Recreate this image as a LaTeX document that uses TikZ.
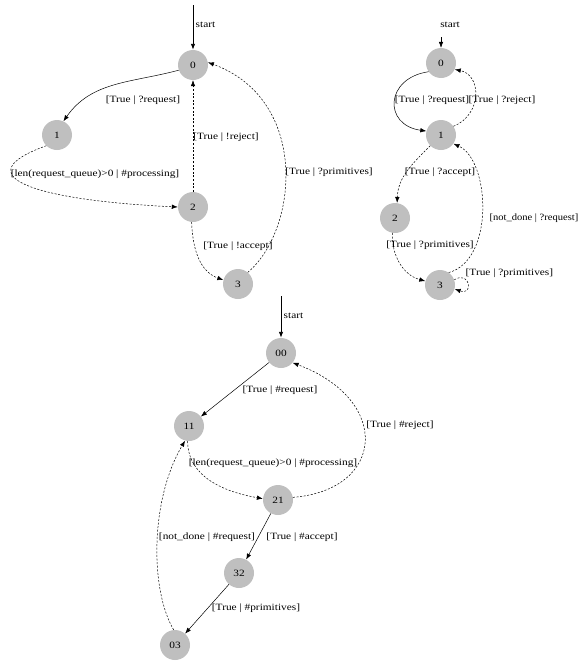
\documentclass[tikz,border=0pt]{standalone}
\usepackage{fontspec}
\usepackage{graphicx}
\setmainfont{Liberation Serif}[FakeStretch=1.18]
\usetikzlibrary{arrows.meta}
\newcommand{\lblfont}{\fontsize{9.6}{11}\selectfont}
\tikzset{
  st/.style={circle, fill=gray!50, minimum size=30pt, inner sep=0pt, font=\lblfont},
  e/.style={-{Latex[length=6pt,width=4.5pt]}, line width=0.5pt},
  dsh/.style={e, dash pattern=on 2pt off 1.6pt},
  stedge/.style={-{Latex[length=6pt,width=4.5pt]}, line width=0.9pt},
  lab/.style={font=\lblfont, inner sep=0.5pt},
}
\begin{document}
\begin{tikzpicture}[x=1pt,y=-1pt]
\useasboundingbox (0,0) rectangle (580,664);
% ---------- left graph ----------
\node[st] (a0) at (193,65) {0};
\node[st] (a1) at (57,135) {1};
\node[st] (a2) at (193,207) {2};
\node[st] (a3) at (238,284) {3};
\coordinate (as) at (193,5);
\draw[stedge] (as) -- (a0);
\node[lab, anchor=west] (asl) at (195,25) {start};
\draw[e] (a0.200) to[out=195,in=55] (a1.65);
\node[lab] (l01) at (143,100) {[True | ?request]};
\draw[dsh] (a1.225) .. controls (-35,175) and (30,200) .. (a2.180);
\node[lab] (l12) at (95,174) {[len(request\_queue)>0 | \#processing]};
\draw[dsh] (a2) -- (a0);
\node[lab] (l20) at (226,137) {[True | !reject]};
\draw[dsh] (a2.265) to[out=-88,in=160] (a3.165);
\node[lab] (l23) at (238,246) {[True | !accept]};
\draw[dsh] (a3.50) .. controls (298,230) and (310,100) .. (a0.10);
\node[lab] (l30) at (329,172) {[True | ?primitives]};
% ---------- right graph ----------
\node[st] (r0) at (441,63) {0};
\node[st] (r1) at (441,135) {1};
\node[st] (r2) at (395,218) {2};
\node[st] (r3) at (440,285) {3};
\coordinate (rs) at (441,37);
\draw[e] (rs) -- (r0);
\node[lab] (rsl) at (450,25) {start};
\draw[e] (r0.215) .. controls (385,78) and (383,125) .. (r1.165);
\node[lab] (rl01) at (432,100) {[True | ?request]};
\draw[dsh] (r1.35) .. controls (482,115) and (482,75) .. (r0.-25);
\node[lab] (rl10) at (502,100) {[True | ?reject]};
\draw[dsh] (r1.225) to[out=225,in=88] (r2.82);
\node[lab] (rl12) at (440,172) {[True | ?accept]};
\draw[dsh] (r2.260) to[out=-92,in=165] (r3.165);
\node[lab] (rl23) at (430,245) {[True | ?primitives]};
\draw[dsh] (r3.55) .. controls (495,260) and (490,160) .. (r1.-35);
\node[lab, anchor=east] (rl31) at (579,218) {\scalebox{0.93}[1]{[not\_done | ?request]}};
\draw[dsh] (r3.20) .. controls (470,270) and (474,296) .. (r3.-15);
\node[lab, anchor=west] (rl33) at (465,273) {[True | ?primitives]};
% ---------- bottom graph ----------
\node[st] (b00) at (281,353) {00};
\node[st] (b11) at (189,426) {11};
\node[st] (b21) at (278,500) {21};
\node[st] (b32) at (239,573) {32};
\node[st] (b03) at (175,645) {03};
\coordinate (bs) at (281,296);
\draw[stedge] (bs) -- (b00);
\node[lab, anchor=west] (bsl) at (283,316) {start};
\draw[e] (b00) -- (b11);
\node[lab] (bl0011) at (280,390) {[True | \#request]};
\draw[dsh] (b11.265) to[out=-90,in=170] (b21.175);
\node[lab] (bl1121) at (273,463) {[len(request\_queue)>0 | \#processing]};
\draw[dsh] (b21.10) .. controls (385,490) and (392,400) .. (b00.-40);
\node[lab] (bl2100) at (400,425) {[True | \#reject]};
\draw[e] (b21) -- (b32);
\node[lab] (bl2132) at (302,537) {[True | \#accept]};
\draw[e] (b32) -- (b03);
\node[lab] (bl3203) at (256,608) {[True | \#primitives]};
\draw[dsh] (b03.95) .. controls (150,590) and (150,500) .. (b11.255);
\node[lab] (bl0311) at (207,537) {[not\_done | \#request]};
\end{tikzpicture}
\end{document}
